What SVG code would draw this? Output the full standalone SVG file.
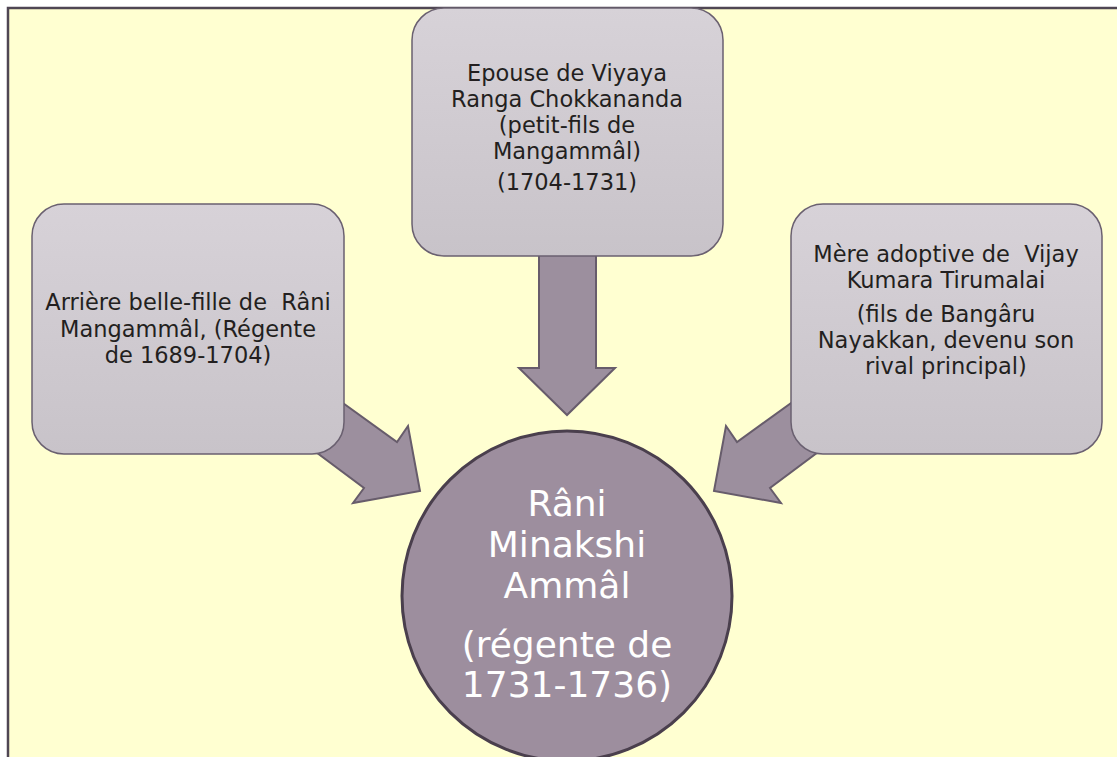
<svg xmlns="http://www.w3.org/2000/svg" width="1117" height="757" viewBox="0 0 1117 757">
<defs>
<linearGradient id="boxg" x1="0" y1="0" x2="0" y2="1">
<stop offset="0" stop-color="#D7D2D8"/>
<stop offset="1" stop-color="#C8C3C9"/>
</linearGradient>
<style>
.box{fill:url(#boxg);stroke:#6A6070;stroke-width:1.5}
.arrow{fill:#9C8F9E;stroke:#675C6B;stroke-width:2;stroke-linejoin:miter}
.t{font-family:"DejaVu Sans",sans-serif;font-size:22.5px;fill:#231F20;text-anchor:middle}
.c{font-family:"DejaVu Sans",sans-serif;font-size:36px;fill:#FFFFFF;text-anchor:middle}
</style>
</defs>
<rect x="0" y="0" width="1117" height="757" fill="#FFFFFF"/>
<rect x="8" y="8" width="1200" height="800" fill="#FFFFD1" stroke="#4F4653" stroke-width="2.5"/>
<g id="connectors">
<polygon class="arrow" points="539,240 596,240 596,368 615,368 567,415 519,368 539,368"/>
<polygon class="arrow" points="311,380 397,442 408,426 420,491 353,503 364,488 285,429"/>
<polygon class="arrow" points="823,380 737,442 726,426 714,491 781,503 770,488 849,429"/>
</g>
<g id="node-top">
<rect class="box" x="412" y="8" width="311" height="248" rx="32"/>
<text class="t" x="567" y="81">Epouse de Viyaya</text>
<text class="t" x="567" y="107">Ranga Chokkananda</text>
<text class="t" x="567" y="133">(petit-fils de</text>
<text class="t" x="567" y="159">Mangammâl)</text>
<text class="t" x="567" y="190">(1704-1731)</text>
</g>
<g id="node-left">
<rect class="box" x="32" y="204" width="312" height="250" rx="32"/>
<text class="t" x="188" y="310" xml:space="preserve">Arrière belle-fille de  Râni</text>
<text class="t" x="188" y="337">Mangammâl, (Régente</text>
<text class="t" x="188" y="363">de 1689-1704)</text>
</g>
<g id="node-right">
<rect class="box" x="791" y="204" width="311" height="250" rx="32"/>
<text class="t" x="946" y="262" xml:space="preserve">Mère adoptive de  Vijay</text>
<text class="t" x="946" y="288">Kumara Tirumalai</text>
<text class="t" x="946" y="322">(fils de Bangâru</text>
<text class="t" x="946" y="348">Nayakkan, devenu son</text>
<text class="t" x="946" y="374">rival principal)</text>
</g>
<g id="node-center">
<circle cx="567" cy="596" r="165" fill="#9D8E9E" stroke="#4A3F4D" stroke-width="3"/>
<text class="c" x="567" y="516">Râni</text>
<text class="c" x="567" y="557">Minakshi</text>
<text class="c" x="567" y="598">Ammâl</text>
<text class="c" x="567" y="657">(régente de</text>
<text class="c" x="567" y="697">1731-1736)</text>
</g>
</svg>
